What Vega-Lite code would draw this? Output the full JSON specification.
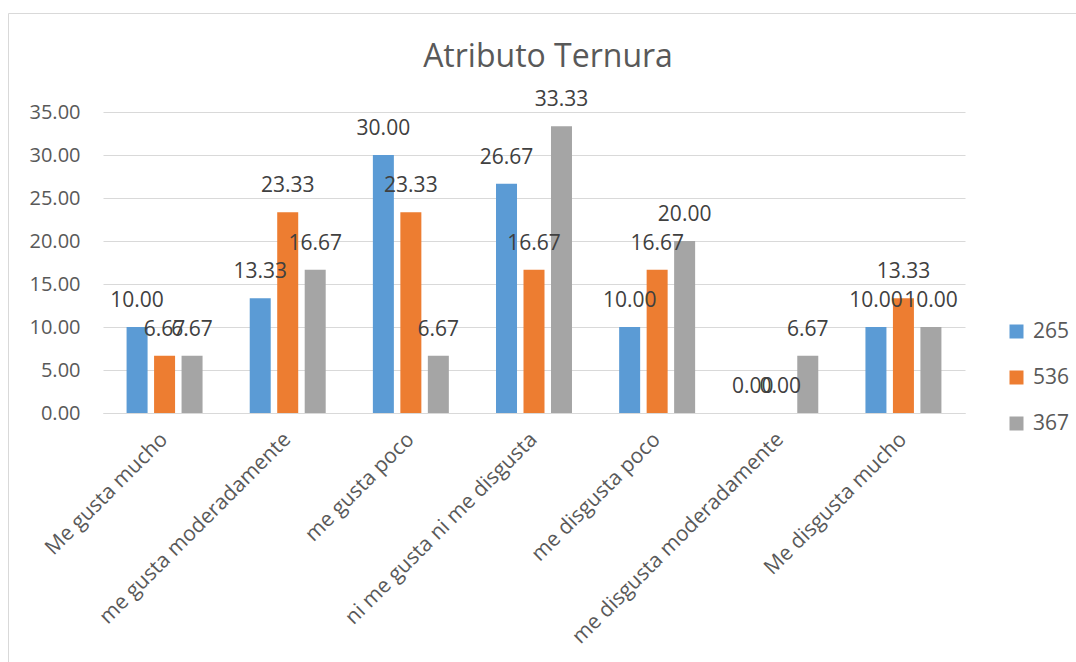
{
  "$schema": "https://vega.github.io/schema/vega-lite/v6.json",
  "width": 1080,
  "height": 660,
  "autosize": {"type": "none"},
  "padding": {"left": 8, "top": 13, "right": 0, "bottom": 0},
  "background": "#ffffff",
  "config": {
    "font": "Open Sans",
    "view": {"stroke": "#d9d9d9", "strokeWidth": 1}
  },
  "title": {
    "text": "Atributo Ternura",
    "fontSize": 32,
    "fontWeight": "normal",
    "color": "#595959",
    "anchor": "middle",
    "frame": "group",
    "baseline": "alphabetic",
    "offset": -86
  },
  "data": {
    "values": [
      {"respuesta": "Me gusta mucho", "serie": "265", "porcentaje": 10.00},
      {"respuesta": "Me gusta mucho", "serie": "536", "porcentaje": 6.67},
      {"respuesta": "Me gusta mucho", "serie": "367", "porcentaje": 6.67},
      {"respuesta": "me gusta moderadamente", "serie": "265", "porcentaje": 13.33},
      {"respuesta": "me gusta moderadamente", "serie": "536", "porcentaje": 23.33},
      {"respuesta": "me gusta moderadamente", "serie": "367", "porcentaje": 16.67},
      {"respuesta": "me gusta poco", "serie": "265", "porcentaje": 30.00},
      {"respuesta": "me gusta poco", "serie": "536", "porcentaje": 23.33},
      {"respuesta": "me gusta poco", "serie": "367", "porcentaje": 6.67},
      {"respuesta": "ni me gusta ni me disgusta", "serie": "265", "porcentaje": 26.67},
      {"respuesta": "ni me gusta ni me disgusta", "serie": "536", "porcentaje": 16.67},
      {"respuesta": "ni me gusta ni me disgusta", "serie": "367", "porcentaje": 33.33},
      {"respuesta": "me disgusta poco", "serie": "265", "porcentaje": 10.00},
      {"respuesta": "me disgusta poco", "serie": "536", "porcentaje": 16.67},
      {"respuesta": "me disgusta poco", "serie": "367", "porcentaje": 20.00},
      {"respuesta": "me disgusta moderadamente", "serie": "265", "porcentaje": 0.00},
      {"respuesta": "me disgusta moderadamente", "serie": "536", "porcentaje": 0.00},
      {"respuesta": "me disgusta moderadamente", "serie": "367", "porcentaje": 6.67},
      {"respuesta": "Me disgusta mucho", "serie": "265", "porcentaje": 10.00},
      {"respuesta": "Me disgusta mucho", "serie": "536", "porcentaje": 13.33},
      {"respuesta": "Me disgusta mucho", "serie": "367", "porcentaje": 10.00}
    ]
  },
  "encoding": {
    "x": {
      "field": "respuesta",
      "type": "nominal",
      "sort": ["Me gusta mucho", "me gusta moderadamente", "me gusta poco", "ni me gusta ni me disgusta", "me disgusta poco", "me disgusta moderadamente", "Me disgusta mucho"],
      "scale": {"range": [95, 957], "paddingInner": 0.383, "paddingOuter": 0.1915},
      "axis": {
        "title": null,
        "orient": "bottom",
        "offset": -260,
        "labelAngle": -45,
        "labelAlign": "right",
        "labelBaseline": "middle",
        "labelFontSize": 21,
        "labelColor": "#595959",
        "labelPadding": 23,
        "labelOffset": 0,
        "labelLimit": 400,
        "ticks": false,
        "tickSize": 0,
        "domain": true,
        "domainColor": "#d9d9d9",
        "domainWidth": 1,
        "grid": false
      }
    },
    "xOffset": {
      "field": "serie",
      "type": "nominal",
      "sort": ["265", "536", "367"],
      "scale": {"paddingInner": 0.236, "paddingOuter": 0}
    },
    "y": {
      "field": "porcentaje",
      "type": "quantitative",
      "scale": {"domain": [0, 35], "range": [400, 99], "nice": false, "zero": true},
      "axis": {
        "title": null,
        "orient": "left",
        "offset": -72,
        "values": [0, 5, 10, 15, 20, 25, 30, 35],
        "format": ".2f",
        "labelFontSize": 20,
        "labelColor": "#595959",
        "labelPadding": 0,
        "ticks": false,
        "tickSize": 0,
        "domain": false,
        "grid": true,
        "gridColor": "#d9d9d9",
        "gridWidth": 1
      }
    }
  },
  "layer": [
    {
      "mark": {"type": "bar"},
      "encoding": {
        "color": {
          "field": "serie",
          "type": "nominal",
          "sort": ["265", "536", "367"],
          "scale": {"domain": ["265", "536", "367"], "range": ["#5B9BD5", "#ED7D31", "#A5A5A5"]},
          "legend": {
            "title": null,
            "orient": "none",
            "legendX": 998,
            "legendY": 308,
            "direction": "vertical",
            "symbolType": "square",
            "symbolSize": 196,
            "symbolStrokeWidth": 0,
            "labelFontSize": 21,
            "labelColor": "#595959",
            "labelOffset": 6,
            "rowPadding": 24,
            "padding": 0
          }
        }
      }
    },
    {
      "mark": {"type": "text", "baseline": "middle", "align": "center", "dy": -26, "fontSize": 21, "color": "#404040"},
      "encoding": {
        "text": {"field": "porcentaje", "type": "quantitative", "format": ".2f"}
      }
    }
  ]
}
